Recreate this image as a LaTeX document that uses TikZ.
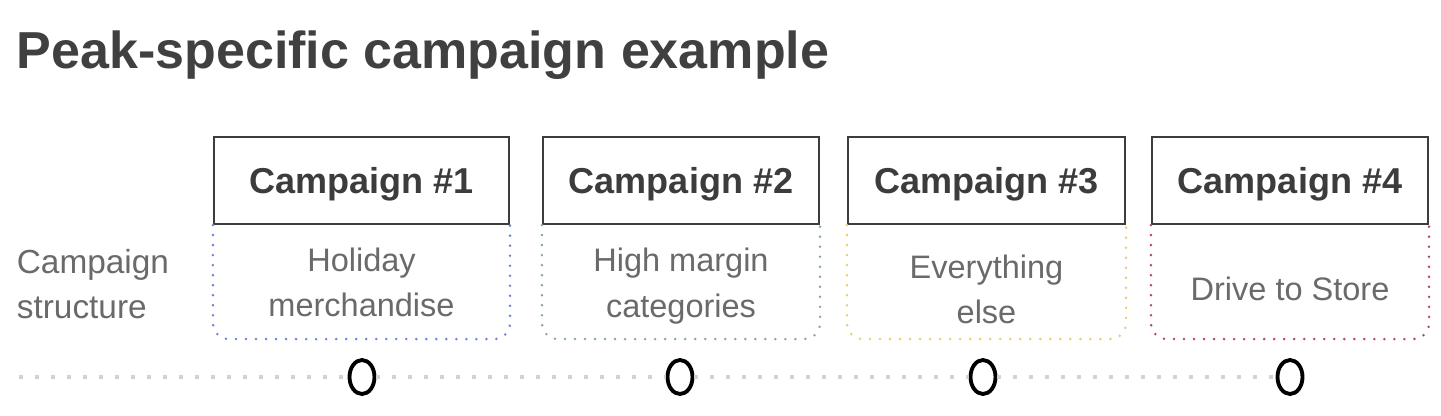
\documentclass[tikz,border=0pt]{standalone}
\usepackage{fontspec}
\setmainfont{Liberation Sans}
\usetikzlibrary{positioning,shapes.geometric}
\definecolor{titlegray}{HTML}{404040}
\definecolor{headgray}{HTML}{3C3C3C}
\definecolor{bodygray}{HTML}{6A6A6A}
\definecolor{trackgray}{HTML}{D2D2D2}
\definecolor{rimblue}{HTML}{7083D0}
\definecolor{rimteal}{HTML}{8AA6A8}
\definecolor{rimyellow}{HTML}{E3CF74}
\definecolor{rimred}{HTML}{B04A5E}
\begin{document}
\begin{tikzpicture}[
head/.style={draw=headgray, line width=1.2pt, minimum height=1.74cm, text depth=0pt,
  font=\fontsize{20.5}{24}\selectfont\bfseries, text=headgray},
body/.style={minimum height=2.28cm, inner sep=0pt, align=center,
  font=\fontsize{18.5}{26}\selectfont, text=bodygray},
rim/.style={line width=1.6pt, line cap=round, dash pattern=on 0pt off 5.7pt,
  rounded corners=9pt},
track/.style={trackgray, line width=2.3pt, dash pattern=on 2.3pt off 6.8pt},
milestone/.style={ellipse, draw=black, fill=white, line width=2.2pt, inner sep=0pt,
  minimum width=0.5cm, minimum height=0.68cm}
]
\useasboundingbox (0,0) rectangle (28.82,8.3);

% title
\node[anchor=base west, inner sep=0pt, text=titlegray,
  font=\fontsize{29.6}{34}\selectfont\bfseries] (title) at (0.33,6.94)
  {Peak-specific campaign example};

% row label
\node[anchor=west, inner sep=0pt, align=left, text=bodygray,
  font=\fontsize{19}{26}\selectfont] (rowlabel) at (0.33,2.62)
  {Campaign\\structure};

% campaign headers
\node[head, minimum width=5.9cm]  (h1) at (7.23,4.69)  {Campaign \#1};
\node[head, minimum width=5.52cm] (h2) at (13.62,4.69) {Campaign \#2};
\node[head, minimum width=5.54cm] (h3) at (19.73,4.69) {Campaign \#3};
\node[head, minimum width=5.52cm] (h4) at (25.8,4.69)  {Campaign \#4};

% campaign bodies
\node[body, below=0pt of h1]               (b1) {Holiday\\merchandise};
\node[body, below=0pt of h2, yshift=-0.08cm] (b2) {High margin\\categories};
\node[body, below=0pt of h3, yshift=-0.14cm] (b3) {Everything\\else};
\node[body, below=0pt of h4, yshift=-0.12cm] (b4) {Drive to Store};

\draw[rim, rimblue]   (h1.south west) -- ++(0,-2.28) -| (h1.south east);
\draw[rim, rimteal]   (h2.south west) -- ++(0,-2.28) -| (h2.south east);
\draw[rim, rimyellow] (h3.south west) -- ++(0,-2.28) -| (h3.south east);
\draw[rim, rimred]    (h4.south west) -- ++(0,-2.28) -| (h4.south east);

% timeline
\coordinate (start) at (0.38,0.76);
\node[milestone] (m1) at (7.24,0.76) {};
\node[milestone] (m2) at (13.6,0.76) {};
\node[milestone] (m3) at (19.66,0.76) {};
\node[milestone] (m4) at (25.8,0.76) {};
\draw[track] (start) -- (m1) -- (m2) -- (m3) -- (m4);

\end{tikzpicture}
\end{document}
